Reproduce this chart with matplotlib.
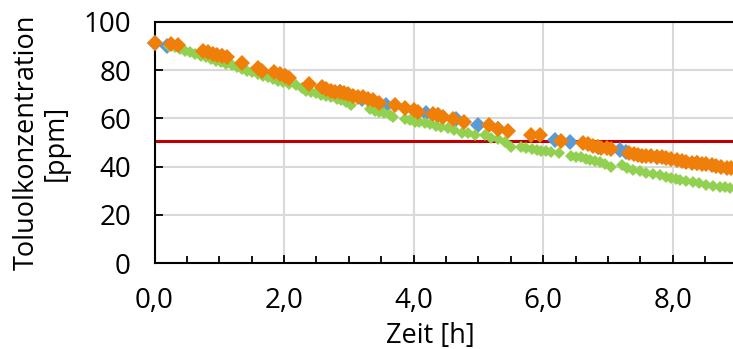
import matplotlib
matplotlib.use("Agg")
import matplotlib.pyplot as plt
from matplotlib.ticker import MultipleLocator, FixedLocator

plt.rcParams['font.family'] = ['Open Sans', 'DejaVu Sans']

# Messreihe 1 (blau, meist verdeckt)
blue_t = [0.00, 0.19, 0.90, 1.04, 2.01, 2.86, 3.21, 3.58, 4.19, 4.38, 4.66,
          4.99, 5.31, 6.18, 6.41, 6.84, 7.18, 7.28, 7.75, 8.37]
blue_c = [91.0, 89.8, 86.2, 85.9, 77.6, 70.7, 67.8, 65.6, 62.1, 61.4, 59.9,
          57.3, 55.4, 51.0, 50.3, 48.3, 46.9, 46.2, 44.1, 41.4]

# Messreihe 2 (orange)
orange_t = [0.00, 0.25, 0.36, 0.75, 0.82, 0.90, 0.97, 1.04, 1.12, 1.35, 1.60,
            1.66, 1.85, 1.93, 2.01, 2.08, 2.38, 2.58, 2.65, 2.72, 2.79, 2.86,
            2.92, 2.99, 3.06, 3.14, 3.22, 3.29, 3.37, 3.47, 3.72, 3.86, 4.00,
            4.07, 4.30, 4.38, 4.45, 4.61, 4.78, 5.16, 5.31, 5.46, 5.81, 5.95,
            6.28, 6.61, 6.69, 6.77, 6.84, 6.90, 6.98, 7.05, 7.32, 7.40, 7.47,
            7.53, 7.59, 7.67, 7.75, 7.83, 7.90, 7.98, 8.06, 8.14, 8.21, 8.29,
            8.37, 8.45, 8.52, 8.60, 8.67, 8.75, 8.83, 8.90]
orange_c = [91.2, 90.9, 90.5, 87.7, 87.3, 86.7, 86.3, 85.9, 85.3, 82.8, 80.8,
            79.8, 79.0, 78.3, 77.6, 76.6, 74.3, 72.9, 72.1, 71.5, 71.1, 70.7,
            70.4, 70.0, 69.4, 69.0, 68.8, 68.1, 67.4, 66.5, 65.6, 64.2, 63.5,
            62.8, 61.7, 61.4, 60.5, 59.6, 58.6, 57.1, 55.4, 54.9, 53.1, 53.1,
            50.8, 49.6, 49.2, 48.7, 48.3, 47.9, 47.6, 47.3, 45.8, 45.3, 44.8,
            44.6, 44.5, 44.3, 44.1, 43.8, 43.4, 43.1, 42.7, 42.4, 42.0, 41.7,
            41.4, 41.2, 41.0, 40.7, 40.4, 40.0, 39.5, 39.3]

# Messreihe 3 (gruen)
green_t = [0.23, 0.31, 0.39, 0.47, 0.55, 0.63, 0.71, 0.79, 0.87, 0.95, 1.03,
           1.11, 1.19, 1.27, 1.35, 1.43, 1.51, 1.59, 1.67, 1.75, 1.83, 1.91,
           1.99, 2.07, 2.19, 2.27, 2.34, 2.42, 2.50, 2.57, 2.65, 2.73, 2.81,
           2.88, 2.96, 3.04, 3.32, 3.40, 3.47, 3.55, 3.63, 3.68, 3.86, 3.94,
           4.02, 4.09, 4.17, 4.25, 4.35, 4.43, 4.53, 4.63, 4.74, 4.84, 4.94,
           5.10, 5.20, 5.30, 5.41, 5.51, 5.66, 5.74, 5.82, 5.90, 5.97, 6.05,
           6.12, 6.24, 6.43, 6.51, 6.59, 6.66, 6.72, 6.80, 6.87, 6.95, 7.05,
           7.21, 7.30, 7.39, 7.49, 7.59, 7.70, 7.80, 7.89, 7.98, 8.05, 8.11,
           8.21, 8.31, 8.41, 8.52, 8.62, 8.73, 8.81, 8.88]
green_c = [90.0, 89.4, 88.6, 88.0, 87.3, 86.5, 86.0, 85.2, 84.6, 83.9, 83.3,
           82.5, 81.9, 81.1, 80.4, 79.8, 79.0, 78.4, 77.7, 77.0, 76.4, 75.6,
           75.0, 74.3, 73.9, 72.5, 71.5, 70.8, 70.4, 69.7, 69.4, 68.8, 68.0,
           67.6, 66.7, 65.6, 63.9, 63.2, 62.5, 62.1, 61.4, 60.7, 59.8, 59.3,
           58.6, 58.4, 58.0, 57.7, 56.8, 56.6, 55.9, 55.2, 54.1, 53.8, 53.1,
           53.1, 51.7, 51.3, 50.3, 48.0, 48.3, 47.7, 47.2, 46.9, 46.6, 46.4,
           46.2, 45.5, 44.4, 44.2, 43.9, 43.2, 42.7, 42.4, 42.0, 41.2, 40.0,
           40.7, 39.6, 38.6, 38.0, 37.2, 36.9, 36.5, 35.8, 35.1, 34.7, 34.4,
           34.1, 33.8, 33.2, 32.6, 32.1, 31.7, 31.5, 31.3]

grenzwert = 50.8

x_ticks = [0, 2, 4, 6, 8]
x_ticklabels = ["0,0", "2,0", "4,0", "6,0", "8,0"]
y_ticks = [0, 20, 40, 60, 80, 100]

fig = plt.figure(figsize=(7.33, 3.49), dpi=100)
ax = fig.add_axes([0.2108, 0.2456, 0.7892, 0.6922])

ax.axhline(grenzwert, color='#C00000', lw=2.2, zorder=2)
ax.plot(blue_t, blue_c, ls='none', marker='D', ms=7.8, color='#5B9BD5',
        mew=0, zorder=3, clip_on=False)
ax.plot(green_t, green_c, ls='none', marker='D', ms=6.4, color='#92D050',
        mew=0, zorder=4, clip_on=False)
ax.plot(orange_t, orange_c, ls='none', marker='D', ms=7.8, color='#F07F09',
        mew=0, zorder=5, clip_on=False)

ax.set_xlim(0, 8.93)
ax.set_ylim(0, 100)
ax.xaxis.set_major_locator(FixedLocator(x_ticks))
ax.set_xticklabels(x_ticklabels)
ax.xaxis.set_minor_locator(MultipleLocator(0.5))
ax.set_yticks(y_ticks)

ax.grid(True, which='major', color='#D9D9D9', lw=1.5, zorder=0)
ax.set_axisbelow(True)
ax.spines['right'].set_visible(False)
for s in ['left', 'bottom', 'top']:
    ax.spines[s].set_linewidth(1.5)
    ax.spines[s].set_color('black')

ax.tick_params(which='major', direction='in', length=6, width=1.3,
               labelsize=20, pad=17)
ax.tick_params(which='minor', direction='in', length=5, width=1.3)
ax.tick_params(axis='y', right=False)
ax.tick_params(axis='x', top=False, which='both')

ax.set_xlabel("Zeit [h]", fontsize=19.5)
ax.xaxis.set_label_coords(0.476, -0.245)
ax.set_ylabel("Toluolkonzentration\n[ppm]", fontsize=19.5,
              linespacing=1.05)
ax.yaxis.set_label_coords(-0.146, 0.5)

fig.savefig("out.png", dpi=100)
